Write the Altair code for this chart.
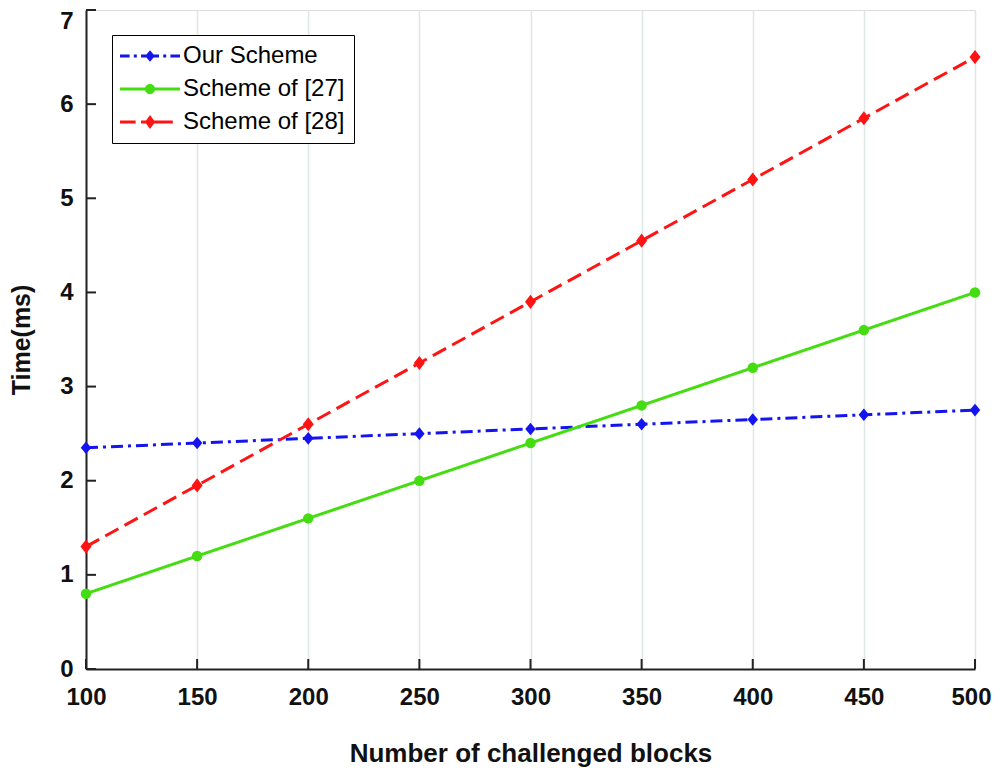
import altair as alt
import pandas as pd

blocks = [100, 150, 200, 250, 300, 350, 400, 450, 500]
our_scheme = [2.35, 2.40, 2.45, 2.50, 2.55, 2.60, 2.65, 2.70, 2.75]
scheme_27 = [0.8, 1.2, 1.6, 2.0, 2.4, 2.8, 3.2, 3.6, 4.0]
scheme_28 = [1.3, 1.95, 2.6, 3.25, 3.9, 4.55, 5.2, 5.85, 6.5]
series_names = ["Our Scheme", "Scheme of [27]", "Scheme of [28]"]
series_colors = ["#1414ee", "#44dd11", "#ff1414"]
series_dashes = [[12, 5, 3, 5], [1, 0], [15, 7]]
y_ticks = [0, 1, 2, 3, 4, 5, 6, 7]
x_ticks = blocks

rows = []
for name, vals in zip(series_names, [our_scheme, scheme_27, scheme_28]):
    for b, v in zip(blocks, vals):
        rows.append({"blocks": b, "time": v, "series": name})
df = pd.DataFrame(rows)

W, H = 889, 659
FONT = "Liberation Sans"

xscale = alt.Scale(domain=[100, 500], nice=False, zero=False)
yscale = alt.Scale(domain=[0, 7], nice=False, zero=True)
# legend colour scale (series order) and drawing scales (same mapping, listed reversed)
cscale = alt.Scale(domain=series_names, range=series_colors)
draw_cscale = alt.Scale(domain=series_names[::-1], range=series_colors[::-1])
dscale = alt.Scale(domain=series_names[::-1], range=series_dashes[::-1])


def seg(a, b, t=0.25):
    return f"M{a},{-t}H{b}V{t}H{a}Z"


diamond_s = "M0,-0.95L0.8,0L0,0.95L-0.8,0Z"
diamond_l = "M0,-1.15L0.85,0L0,1.15L-0.85,0Z"
circle_p = "M0.85,0A0.85,0.85,0,1,1,-0.85,0A0.85,0.85,0,1,1,0.85,0Z"

legend_shapes = [
    seg(-5, -3.4) + seg(-2.7, -2.2) + seg(-1.5, 1.5) + diamond_s + seg(2.2, 2.7) + seg(3.4, 5),
    seg(-5, 5) + circle_p,
    seg(-5, -2.4) + seg(-1.5, 3.8) + diamond_l,
]
point_shapes = [
    "M0,-1.2L1,0L0,1.2L-1,0Z",
    "circle",
    "M0,-1.35L1.05,0L0,1.35L-1.05,0Z",
]

legend = alt.Legend(
    title=None,
    orient="none",
    legendX=26,
    legendY=25,
    symbolSize=144,
    symbolStrokeWidth=0,
    symbolOpacity=1,
    symbolOffset=17,
    labelOffset=21,
    labelFont=FONT,
    labelFontSize=24,
    labelColor="black",
    labelLimit=400,
    strokeColor="black",
    fillColor="white",
    padding=9,
    rowPadding=9,
    cornerRadius=0,
)

x_axis = alt.Axis(
    values=x_ticks,
    grid=True,
    gridColor="#dfe7e7",
    gridWidth=1.5,
    ticks=False,
    domainColor="#222222",
    domainWidth=2,
    labelFont=FONT,
    labelFontSize=24,
    labelFontWeight="bold",
    labelColor="#111111",
    labelPadding=16,
    labelFlush=False,
    labelOffset={"condition": {"test": "datum.value === 500", "value": -4}, "value": 0},
    title="Number of challenged blocks",
    titleFont=FONT,
    titleFontSize=26,
    titleFontWeight="bold",
    titleColor="#111111",
    titlePadding=31,
)
y_axis = alt.Axis(
    values=y_ticks,
    grid=False,
    ticks=False,
    domainColor="#222222",
    domainWidth=2,
    labelFont=FONT,
    labelFontSize=24,
    labelFontWeight="bold",
    labelColor="#111111",
    labelPadding=13,
    labelFlush=False,
    labelOffset={"condition": {"test": "datum.value === 7", "value": 11}, "value": 0},
    title="Time(ms)",
    titleFont=FONT,
    titleFontSize=25,
    titleFontWeight="bold",
    titleColor="#111111",
    titlePadding=25,
)

X = alt.X("blocks:Q", scale=xscale, axis=x_axis)
Y = alt.Y("time:Q", scale=yscale, axis=y_axis)

base = alt.Chart(df)

lines = base.mark_line(strokeWidth=3).encode(
    x=X,
    y=Y,
    stroke=alt.Stroke("series:N", scale=draw_cscale, legend=None),
    strokeDash=alt.StrokeDash("series:N", scale=dscale, legend=None),
    detail="series:N",
)

point_layers = []
for name, shp in zip(series_names, point_shapes):
    point_layers.append(
        base.transform_filter(alt.datum.series == name)
        .mark_point(filled=True, size=110, opacity=1, shape=shp)
        .encode(
            x=X,
            y=Y,
            fill=alt.Fill("series:N", scale=draw_cscale, legend=None),
        )
    )

legend_layer = (
    base.transform_filter("datum.time < 0")
    .mark_point(filled=True, opacity=1, strokeWidth=0)
    .encode(
        x=X,
        y=Y,
        color=alt.Color("series:N", scale=cscale, legend=legend),
        shape=alt.Shape(
            "series:N",
            scale=alt.Scale(domain=series_names, range=legend_shapes),
            legend=legend,
        ),
    )
)

ytick_df = pd.DataFrame({"time": y_ticks})
xtick_df = pd.DataFrame({"blocks": x_ticks})

yticks = alt.Chart(ytick_df).mark_rule(color="#222222", strokeWidth=2).encode(
    y=Y,
    x=alt.value(0),
    x2=alt.value(10),
)
xticks = alt.Chart(xtick_df).mark_rule(color="#222222", strokeWidth=2).encode(
    x=X,
    y=alt.value(H),
    y2=alt.value(H - 10),
)

chart = (
    alt.layer(lines, *point_layers, legend_layer, yticks, xticks)
    .properties(
        width=W,
        height=H,
        autosize=alt.AutoSizeParams(type="none"),
        padding={"left": 78, "top": 2, "right": 17, "bottom": 98},
    )
    .configure_view(strokeWidth=0)
    .configure(background="white")
)

chart.save("out.html", embed_options={"renderer": "svg", "actions": False})
